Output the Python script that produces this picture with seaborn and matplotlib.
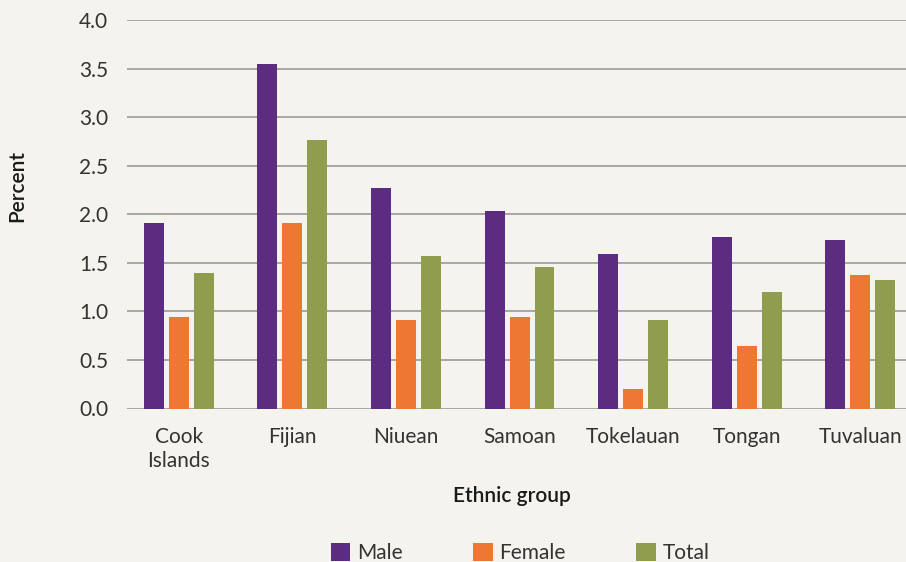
import matplotlib
matplotlib.use("Agg")
import matplotlib.pyplot as plt
import seaborn as sns
import pandas as pd
from matplotlib.patches import Patch

groups = ["Cook\nIslands", "Fijian", "Niuean", "Samoan", "Tokelauan", "Tongan", "Tuvaluan"]
male = [1.91, 3.55, 2.27, 2.03, 1.59, 1.77, 1.74]
female = [0.94, 1.91, 0.91, 0.94, 0.20, 0.64, 1.37]
total = [1.40, 2.76, 1.57, 1.46, 0.91, 1.20, 1.32]
series = ["Male", "Female", "Total"]
colors = ["#5B2C80", "#EE7733", "#909D4F"]
yticks = [0.0, 0.5, 1.0, 1.5, 2.0, 2.5, 3.0, 3.5, 4.0]

rows = []
for name, vals in zip(series, [male, female, total]):
    for g, v in zip(groups, vals):
        rows.append({"group": g, "value": v, "series": name})
df = pd.DataFrame(rows)

sns.set_theme(style="white")
plt.rcParams["font.family"] = ["Lato", "DejaVu Sans"]
bg = "#F4F3EE"
txt = "#1a1a1a"

fig = plt.figure(figsize=(9.06, 5.62), dpi=100, facecolor=bg)
ax = fig.add_axes([127/906, 1 - 408.5/562, 1 - 127/906, (408.5 - 20)/562])
ax.set_facecolor(bg)

sns.barplot(data=df, x="group", y="value", hue="series", order=groups,
            hue_order=series, palette=colors, width=0.66, gap=0.2,
            saturation=1, ax=ax, legend=False, linewidth=0)

ax.set_ylim(0, 4.0)
ax.set_xlim(-0.456, 6.403)
ax.set_yticks(yticks)
ax.set_yticklabels([f"{t:.1f}" for t in yticks])
ax.yaxis.grid(True, color="#A6A6A6", linewidth=1.4)
ax.xaxis.grid(False)
ax.set_axisbelow(True)
for s in ax.spines.values():
    s.set_visible(False)
ax.tick_params(axis="y", length=0, pad=13.5, labelsize=15, labelcolor="#333333")
ax.tick_params(axis="x", length=0, pad=13, labelsize=15, labelcolor="#333333")
for lab in ax.get_xticklabels():
    lab.set_linespacing(1.25)

ax.set_xlabel("Ethnic group", fontsize=15, fontweight="semibold", color=txt)
ax.xaxis.set_label_coords((511.5 - 127) / 779, (408.5 - 486) / 388.5)
ax.set_ylabel("Percent", fontsize=15, fontweight="semibold", color=txt)
ax.yaxis.set_label_coords((27 - 127) / 779, (408.5 - 186) / 388.5)

handles = [Patch(facecolor=c, edgecolor="none", label=s) for c, s in zip(colors, series)]
fig.legend(handles=handles, loc="center", bbox_to_anchor=(520 / 906, (562 - 553) / 562),
           ncol=3, frameon=False, fontsize=15, handlelength=0.95, handleheight=0.95,
           handletextpad=0.3, columnspacing=3.4, borderpad=0, labelcolor="#333333")

fig.savefig("out.png", dpi=100, facecolor=bg)
